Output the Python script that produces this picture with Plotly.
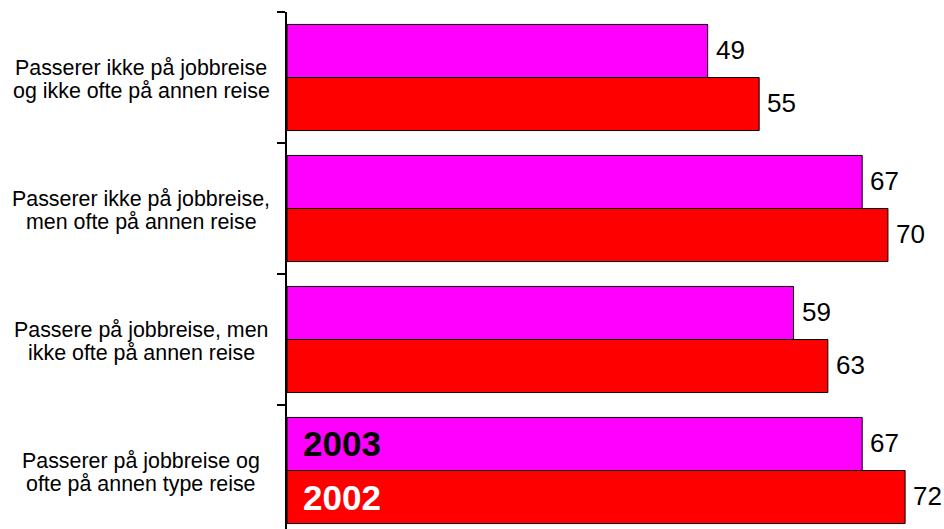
import plotly.graph_objects as go

# Category labels (each split into its two display lines), top to bottom
category_lines = [
    ["Passerer ikke på jobbreise", "og ikke ofte på annen reise"],
    ["Passerer ikke på jobbreise,", "men ofte på annen reise"],
    ["Passere på jobbreise, men", "ikke ofte på annen reise"],
    ["Passerer på jobbreise og", "ofte på annen type reise"],
]
categories = [" ".join(lines) for lines in category_lines]

series_names = ["2003", "2002"]
values_2003 = [49, 67, 59, 67]
values_2002 = [55, 70, 63, 72]

colors = {"2003": "#FF00FF", "2002": "#FF0000"}
FONT = "Arial, Liberation Sans, sans-serif"

fig = go.Figure()
for name, vals in zip(series_names, [values_2003, values_2002]):
    fig.add_trace(go.Bar(
        name=name,
        y=categories,
        x=vals,
        orientation="h",
        marker=dict(color=colors[name], line=dict(color="black", width=1)),
    ))

annotations = []
half = 0.81 / 4  # offset of each bar's centre from its category centre

# Value labels just to the right of each bar end
for k, vals in enumerate([values_2003, values_2002]):
    sign = -1 if k == 0 else 1
    for i, v in enumerate(vals):
        annotations.append(dict(
            text=str(v), xref="x", yref="y", x=v, y=i + sign * half,
            xanchor="left", yanchor="middle", xshift=6, yshift=1,
            showarrow=False,
            font=dict(family=FONT, size=26, color="black"),
        ))

# Two-line category labels, centred to the left of the axis
for i, lines in enumerate(category_lines):
    for j, line in enumerate(lines):
        annotations.append(dict(
            text=line, xref="paper", yref="y", x=-0.2222, y=i,
            xanchor="center", yanchor="middle",
            yshift=10 if j == 0 else -13.5,
            showarrow=False,
            font=dict(family=FONT, size=21.4, color="black"),
        ))

# Series names written inside the bottom group of bars
annotations.append(dict(
    text="<b>2003</b>", xref="x", yref="y", x=0, y=3 - half,
    xanchor="left", yanchor="middle", xshift=14, showarrow=False,
    font=dict(family=FONT, size=35, color="black"),
))
annotations.append(dict(
    text="<b>2002</b>", xref="x", yref="y", x=0, y=3 + half,
    xanchor="left", yanchor="middle", xshift=14, showarrow=False,
    font=dict(family=FONT, size=35, color="white"),
))

fig.update_layout(
    width=944, height=529,
    margin=dict(l=287, r=0, t=12, b=0, pad=0),
    paper_bgcolor="white", plot_bgcolor="white",
    barmode="group", bargap=0.19, bargroupgap=0,
    showlegend=False,
    annotations=annotations,
    xaxis=dict(range=[0, 76.53], showgrid=False, zeroline=False,
               showline=False, showticklabels=False, ticks=""),
    yaxis=dict(type="category", categoryorder="array", categoryarray=categories,
               range=[3.4466, -0.5], showgrid=False, zeroline=False,
               showline=True, linecolor="black", linewidth=1.5,
               ticks="outside", tickson="boundaries", ticklen=8,
               tickcolor="black", tickwidth=1.5, showticklabels=False),
    font=dict(family=FONT),
)

fig.write_html("out.html")
